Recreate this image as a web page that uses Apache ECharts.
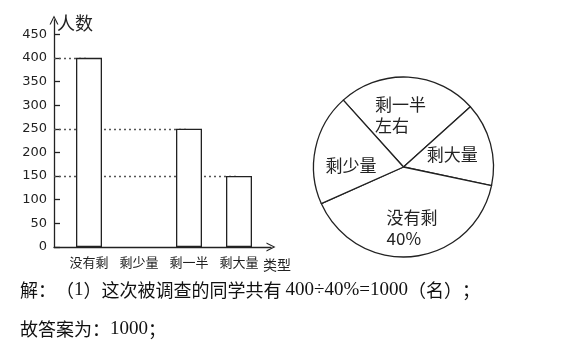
<!DOCTYPE html>
<html><head><meta charset="utf-8">
<script src="https://cdn.jsdelivr.net/npm/echarts@6/dist/echarts.min.js"></script>
<style>html,body{margin:0;padding:0;background:#fff;}#c{width:570px;height:357px;}</style>
</head><body><div id="c"></div>
<script>
// ---- data ----
const categories = ['没有剩', '剩少量', '剩一半', '剩大量'];
const barValues = [400, null, 250, 150];
const yTickValues = [0, 50, 100, 150, 200, 250, 300, 350, 400, 450];
const pieNames = ['剩一半\n左右', '剩大量', '没有剩', '剩少量'];
const piePercents = [25, 15, 40, 20];
const solutionLines = ['解：（1）这次被调查的同学共有 400÷40%=1000（名）；', '故答案为：1000；'];

// ---- layout / style ----
const AXIS_LEFT = 54;
const INK = '#222';
const CJK = '"Noto Sans CJK SC", sans-serif';
const chevron = 'path://M5,0 L10,10 L8.6,10 L5,2.6 L1.4,10 L0,10 Z';
const pieLabelPad = [[0, 10, 8, 0], [0, 0, 0, 6], [26, 0, 0, 8], [18, 10, 0, 0]];

const markData = barValues.map((v, i) => v == null ? null :
  [{ x: AXIS_LEFT, yAxis: v }, { xAxis: i, yAxis: v }]).filter(Boolean);

const pieData = pieNames.map((n, i) => ({
  name: n, value: piePercents[i],
  label: { padding: pieLabelPad[i] }
}));

// split solution text into tokens: numbers (serif), each full-width punctuation alone, CJK runs
function toRich(t) {
  return t.split(/([0-9÷%=]+|[（）：；])/).filter(s => s.length).map(s =>
    /^[0-9÷%=]+$/.test(s) ? '{n|' + s + '}' :
    /^[（）：；]$/.test(s) ? '{p|' + s + '}' : '{c|' + s + '}').join('');
}

const chart = echarts.init(document.getElementById('c'), null, { renderer: 'canvas' });
chart.setOption({
  animation: false,
  backgroundColor: '#fff',
  grid: [
    { left: AXIS_LEFT, right: 299, top: 20, bottom: 110 },
    { left: 64, width: 200, top: 20, bottom: 110 }
  ],
  xAxis: [
    { gridIndex: 0, type: 'value', min: 0, max: 1,
      axisLine: { show: true, lineStyle: { color: INK, width: 1.3 }, symbol: ['none', chevron], symbolSize: [9, 9] },
      axisTick: { show: false }, axisLabel: { show: false }, splitLine: { show: false },
      name: '类型', nameLocation: 'end', nameGap: 6,
      nameTextStyle: { fontFamily: CJK, fontSize: 14, color: INK, align: 'center', verticalAlign: 'top', padding: [11, 0, 0, 0] } },
    { gridIndex: 1, type: 'category', data: categories,
      axisLine: { show: false }, axisTick: { show: false },
      axisLabel: { interval: 0, fontFamily: CJK, fontSize: 13, color: INK, margin: 9 } }
  ],
  yAxis: [
    { gridIndex: 0, type: 'value', min: 0, max: 480,
      axisLine: { show: true, lineStyle: { color: INK, width: 1.3 }, symbol: ['none', chevron], symbolSize: [9, 9] },
      axisTick: { show: true, inside: true, length: 6, customValues: yTickValues, lineStyle: { color: INK, width: 1.3 } },
      axisLabel: { customValues: yTickValues, fontFamily: 'DejaVu Sans', fontSize: 13, color: INK, margin: 7 },
      splitLine: { show: false },
      name: '人数', nameLocation: 'end', nameGap: -3,
      nameTextStyle: { fontFamily: CJK, fontSize: 18, color: INK, align: 'left', verticalAlign: 'middle', padding: [0, 0, 0, 3] } },
    { gridIndex: 1, type: 'value', min: 0, max: 480, show: false }
  ],
  series: [
    { type: 'bar', xAxisIndex: 1, yAxisIndex: 1, data: barValues, barWidth: 26, z: 3,
      itemStyle: { color: '#fff', borderColor: INK, borderWidth: 1.3 },
      markLine: { z: 1, silent: true, symbol: ['none', 'none'], label: { show: false },
        lineStyle: { color: '#555', type: [2, 3], width: 1.3 }, data: markData } },
    { type: 'pie', center: [403.5, 167], radius: 90, startAngle: 132, clockwise: true,
      data: pieData, silent: true,
      itemStyle: { color: '#fff', borderColor: INK, borderWidth: 1.3 },
      labelLine: { show: false },
      label: { show: true, position: 'inside', color: INK,
        formatter: p => {
          const lines = p.name.split('\n');
          if (p.name === '没有剩') lines.push(p.percent + '%');
          return lines.map(l => '{a|' + l + '}').join('\n');
        },
        rich: { a: { fontFamily: CJK, fontSize: 17, color: INK, width: 52, align: 'left', lineHeight: 21 } } } }
  ],
  graphic: solutionLines.map((t, i) => ({
    type: 'text', left: 20, top: 281 + i * 39,
    style: { text: toRich(t),
      rich: {
        c: { fontFamily: CJK, fontSize: 18, fill: '#111', lineHeight: 24 },
        p: { fontFamily: CJK, fontSize: 18, fill: '#111', lineHeight: 24, width: 18 },
        n: { fontFamily: '"Liberation Serif", serif', fontSize: 19, fill: '#111', lineHeight: 24 }
      } }
  }))
});
</script></body></html>
